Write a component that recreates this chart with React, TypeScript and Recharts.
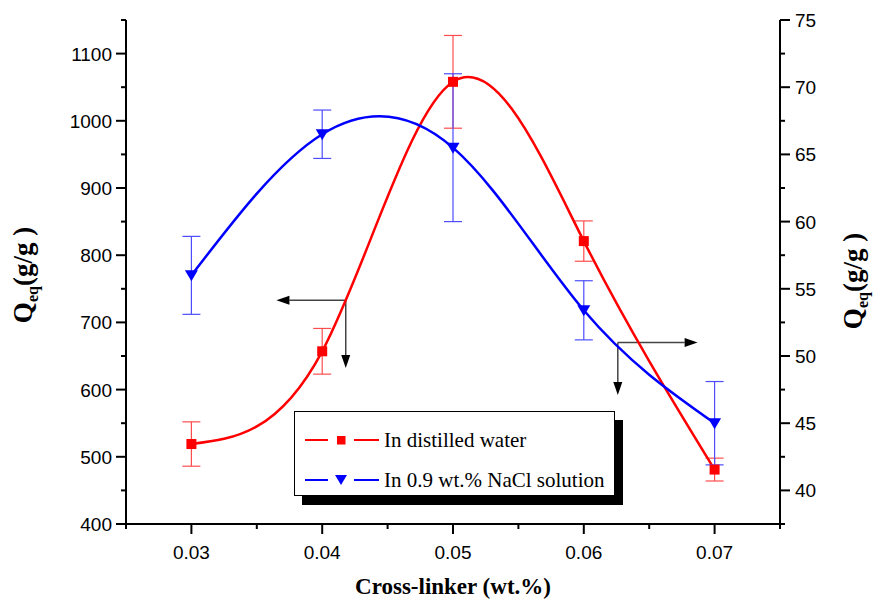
import React from "react";
import {
  LineChart,
  Line,
  XAxis,
  YAxis,
  ErrorBar,
  ReferenceLine,
  Legend,
  Label,
} from "recharts";

// cross-linker content (wt.%)
const crossLinker = [0.03, 0.04, 0.05, 0.06, 0.07];
// swelling in distilled water (left axis, g/g)
const waterQeq = [519, 657, 1058, 821, 481];
const waterErr = [33, 34, 69, 30, 17];
// swelling in 0.9 wt.% NaCl (right axis, g/g)
const salineQeq = [56.0, 66.5, 65.5, 53.4, 45.0];
const salineErr = [2.9, 1.8, 5.5, 2.2, 3.1];

const xTicks = [0.025, 0.03, 0.035, 0.04, 0.045, 0.05, 0.055, 0.06, 0.065, 0.07, 0.075];
const leftTicks = [400, 450, 500, 550, 600, 650, 700, 750, 800, 850, 900, 950, 1000, 1050, 1100, 1150];
const rightTicks = [37.5, 40, 42.5, 45, 47.5, 50, 52.5, 55, 57.5, 60, 62.5, 65, 67.5, 70, 72.5, 75];

// arrows telling which curve belongs to which axis
const leftArrowH = [{ x: 0.0418, y: 733 }, { x: 0.0365, y: 733 }];
const leftArrowV = [{ x: 0.0418, y: 733 }, { x: 0.0418, y: 632 }];
const rightArrowH = [{ x: 0.0626, y: 51.0 }, { x: 0.0687, y: 51.0 }];
const rightArrowV = [{ x: 0.0626, y: 51.0 }, { x: 0.0626, y: 47.1 }];

const legendItems = [
  { label: "In distilled water", color: "#ff0000", shape: "square" },
  { label: "In 0.9 wt.% NaCl solution", color: "#0000ff", shape: "triangle" },
];

const data = crossLinker.map((x, i) => ({
  x,
  water: waterQeq[i],
  waterErr: waterErr[i],
  saline: salineQeq[i],
  salineErr: salineErr[i],
}));

const SANS = "'Liberation Sans', Arial, sans-serif";
const SERIF = "'Liberation Serif', 'Times New Roman', serif";
const axisLine = { stroke: "#000", strokeWidth: 2 };

const isMajor = (v: number, step: number) =>
  Math.abs(v / step - Math.round(v / step)) < 1e-6;

const BottomTick = (p: any) => {
  const { x, y, payload } = p;
  const major = isMajor(payload.value, 0.01);
  return (
    <g>
      <line x1={x} y1={y} x2={x} y2={y + (major ? 10 : 5)} stroke="#000" strokeWidth={2} />
      {major && (
        <text x={x} y={y + 34.5} textAnchor="middle" fontFamily={SANS} fontSize={19} fill="#000">
          {payload.value.toFixed(2)}
        </text>
      )}
    </g>
  );
};

const TopTick = (p: any) => {
  const { x, y, payload } = p;
  const major = isMajor(payload.value, 0.01);
  return <line x1={x} y1={y} x2={x} y2={y + (major ? 10 : 5)} stroke="#000" strokeWidth={2} />;
};

const LeftTick = (p: any) => {
  const { x, y, payload } = p;
  const major = isMajor(payload.value, 100);
  return (
    <g>
      <line x1={x - (major ? 10 : 5)} y1={y} x2={x} y2={y} stroke="#000" strokeWidth={2} />
      {major && (
        <text x={x - 14} y={y + 7} textAnchor="end" fontFamily={SANS} fontSize={19} fill="#000">
          {payload.value}
        </text>
      )}
    </g>
  );
};

const RightTick = (p: any) => {
  const { x, y, payload } = p;
  const major = isMajor(payload.value, 5);
  return (
    <g>
      <line x1={x} y1={y} x2={x + (major ? 10 : 5)} y2={y} stroke="#000" strokeWidth={2} />
      {major && (
        <text x={x + 15} y={y + 7} textAnchor="start" fontFamily={SANS} fontSize={19} fill="#000">
          {payload.value}
        </text>
      )}
    </g>
  );
};

const qeqLabel = (dx: number, cy: number) => (props: any) => {
  const vb = props.viewBox;
  const cx = vb.x + dx;
  return (
    <text
      transform={`rotate(-90 ${cx} ${cy})`}
      x={cx}
      y={cy}
      textAnchor="middle"
      fontFamily={SERIF}
      fontWeight="bold"
      fontSize={27}
      fill="#000"
    >
      Q
      <tspan fontSize={16} dy={6}>eq</tspan>
      <tspan dy={-6}>(g/g )</tspan>
    </text>
  );
};

const SquareDot = (p: any) => (
  <rect key={`sq-${p.index}`} x={p.cx - 5} y={p.cy - 5} width={10} height={10} fill="#ff0000" />
);

const TriangleDot = (p: any) => (
  <polygon
    key={`tri-${p.index}`}
    points={`${p.cx - 6.5},${p.cy - 5} ${p.cx + 6.5},${p.cy - 5} ${p.cx},${p.cy + 6}`}
    fill="#0000ff"
  />
);

const Arrow = (p: any) => {
  const { x1, y1, x2, y2 } = p;
  const a = Math.atan2(y2 - y1, x2 - x1);
  const len = 13;
  const half = 4.5;
  const bx = x2 - len * Math.cos(a);
  const by = y2 - len * Math.sin(a);
  const px = -Math.sin(a) * half;
  const py = Math.cos(a) * half;
  return (
    <g>
      <line x1={x1} y1={y1} x2={bx} y2={by} stroke="#444" strokeWidth={1.5} />
      <polygon points={`${x2},${y2} ${bx + px},${by + py} ${bx - px},${by - py}`} fill="#000" />
    </g>
  );
};

const LegendBox = () => (
  <div
    style={{
      width: 321,
      height: 85,
      border: "1px solid #000",
      boxShadow: "8px 9px 0 #000",
      background: "#fff",
      boxSizing: "border-box",
      position: "relative",
      fontFamily: SERIF,
      fontSize: 21,
      color: "#000",
    }}
  >
    {legendItems.map((it, i) => (
      <div
        key={it.label}
        style={{ position: "absolute", left: 10, top: 15 + i * 40, height: 26, display: "flex", alignItems: "center" }}
      >
        <svg width={78} height={26}>
          <line x1={0} y1={13} x2={23} y2={13} stroke={it.color} strokeWidth={2} />
          <line x1={49} y1={13} x2={74} y2={13} stroke={it.color} strokeWidth={2} />
          {it.shape === "square" ? (
            <rect x={32} y={9} width={8.5} height={8.5} fill={it.color} />
          ) : (
            <polygon points="30,8 42,8 36,18" fill={it.color} />
          )}
        </svg>
        <span style={{ marginLeft: 1, whiteSpace: "nowrap" }}>{it.label}</span>
      </div>
    ))}
  </div>
);

export default function App() {
  return (
    <div style={{ position: "absolute", left: 0, top: 0, width: 880, height: 608, background: "#fff" }}>
      <LineChart width={880} height={608} data={data} margin={{ top: 20, right: 0, bottom: 0, left: 0 }}>
        <XAxis
          type="number"
          dataKey="x"
          domain={[0.025, 0.075]}
          ticks={xTicks}
          interval={0}
          height={84}
          tickSize={0}
          tickMargin={0}
          tickLine={false}
          tick={BottomTick}
          axisLine={axisLine}
          allowDataOverflow
        >
          <Label
            content={() => (
              <text x={453} y={594} textAnchor="middle" fontFamily={SERIF} fontWeight="bold" fontSize={23} fill="#000">
                Cross-linker (wt.%)
              </text>
            )}
          />
        </XAxis>
        <XAxis
          xAxisId="top"
          orientation="top"
          type="number"
          dataKey="x"
          domain={[0.025, 0.075]}
          ticks={xTicks}
          interval={0}
          height={0}
          tickSize={0}
          tickMargin={0}
          tickLine={false}
          tick={TopTick}
          axisLine={axisLine}
          allowDataOverflow
        />
        <YAxis
          yAxisId="left"
          type="number"
          domain={[400, 1150]}
          ticks={leftTicks}
          interval={0}
          width={126}
          tickSize={0}
          tickMargin={0}
          tickLine={false}
          tick={LeftTick}
          axisLine={axisLine}
          allowDataOverflow
        >
          <Label content={qeqLabel(31.5, 275)} />
        </YAxis>
        <YAxis
          yAxisId="right"
          orientation="right"
          type="number"
          domain={[37.5, 75]}
          ticks={rightTicks}
          interval={0}
          width={100}
          tickSize={0}
          tickMargin={0}
          tickLine={false}
          tick={RightTick}
          axisLine={axisLine}
          allowDataOverflow
        >
          <Label content={qeqLabel(81.5, 281)} />
        </YAxis>

        <ReferenceLine yAxisId="left" segment={leftArrowH} shape={Arrow} />
        <ReferenceLine yAxisId="left" segment={leftArrowV} shape={Arrow} />
        <ReferenceLine yAxisId="right" segment={rightArrowH} shape={Arrow} />
        <ReferenceLine yAxisId="right" segment={rightArrowV} shape={Arrow} />

        <Line
          yAxisId="left"
          type="natural"
          dataKey="water"
          name="In distilled water"
          stroke="#ff0000"
          strokeWidth={2.5}
          dot={SquareDot}
          activeDot={false}
          isAnimationActive={false}
        >
          <ErrorBar dataKey="waterErr" direction="y" width={9} stroke="#ff4d4d" strokeWidth={1.2} />
        </Line>
        <Line
          yAxisId="right"
          type="natural"
          dataKey="saline"
          name="In 0.9 wt.% NaCl solution"
          stroke="#0000ff"
          strokeWidth={2.5}
          dot={TriangleDot}
          activeDot={false}
          isAnimationActive={false}
        >
          <ErrorBar dataKey="salineErr" direction="y" width={9} stroke="#4d4dff" strokeWidth={1.2} />
        </Line>

        <Legend
          layout="horizontal"
          verticalAlign="middle"
          align="center"
          content={LegendBox}
          wrapperStyle={{ position: "absolute", left: 294, top: 411, width: 321, height: 85 }}
        />
      </LineChart>
    </div>
  );
}
